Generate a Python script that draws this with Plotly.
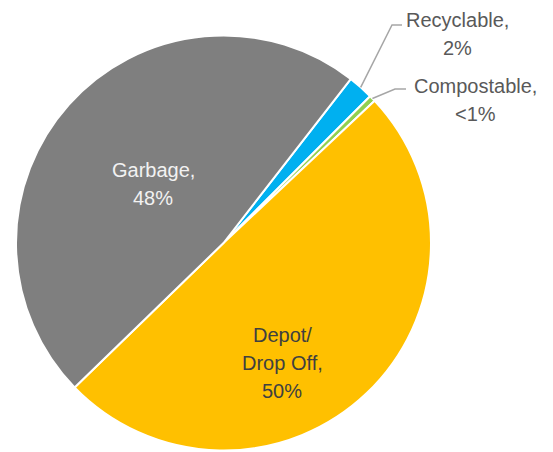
import math
import plotly.graph_objects as go

# Waste stream shares (percent), in clockwise order from the first slice
categories = ["Recyclable", "Compostable", "Depot/<br>Drop Off", "Garbage"]
values = [2, 0.5, 50, 48]
value_labels = ["2%", "<1%", "50%", "48%"]
colors = ["#00B0F0", "#92D050", "#FFC000", "#7F7F7F"]
label_colors = ["#595959", "#595959", "#404040", "#F2F2F2"]

W, H = 553, 452
CX, CY, R = 223.5, 243.0, 207.5   # pie centre and radius in pixels
ROTATION = 37.8                    # start angle of the first slice (deg, clockwise from 12 o'clock)
LINE_GAP = 28                      # label line spacing in pixels


def px(x, y):
    """Pixel position -> paper coordinates."""
    return x / W, 1 - y / H


fig = go.Figure(
    go.Pie(
        labels=categories,
        values=values,
        sort=False,
        direction="clockwise",
        rotation=ROTATION,
        marker=dict(colors=colors, line=dict(color="white", width=2)),
        textinfo="none",
        hoverinfo="skip",
        showlegend=False,
        domain=dict(x=[(CX - R) / W, (CX + R) / W], y=[1 - (CY + R) / H, 1 - (CY - R) / H]),
    )
)

# Slice mid-angles, used to anchor the leader lines of the small slices
total = sum(values)
mid_angles = []
acc = ROTATION
for v in values:
    span = v / total * 360
    mid_angles.append(acc + span / 2)
    acc += span

annotations = []
shapes = []
font_family = "Liberation Sans, Arial, sans-serif"


def add_label(i, x, top_y):
    """Stack the label lines of slice i, first line centred at (x, top_y)."""
    lines = f"{categories[i]},".split("<br>") + [value_labels[i]]
    for k, line in enumerate(lines):
        tx, ty = px(x, top_y + k * LINE_GAP)
        annotations.append(dict(
            x=tx, y=ty, xref="paper", yref="paper", showarrow=False, text=line,
            font=dict(family=font_family, size=20, color=label_colors[i]),
            xanchor="center", yanchor="middle",
        ))


# Outside labels with elbow leader lines for the thin slices
outside = {
    0: dict(elbow=(392, 25), end=(402, 25), text_pos=(457, 20)),
    1: dict(elbow=(395, 89), end=(406, 89), text_pos=(475, 86)),
}
for i, o in outside.items():
    a = math.radians(mid_angles[i])
    sx, sy = CX + R * math.sin(a), CY - R * math.cos(a)
    pts = [(sx, sy), o["elbow"], o["end"]]
    path = "M " + " L ".join(f"{px(x, y)[0]},{px(x, y)[1]}" for x, y in pts)
    shapes.append(dict(type="path", xref="paper", yref="paper", path=path,
                       line=dict(color="#A6A6A6", width=1.5)))
    add_label(i, *o["text_pos"])

# Inside labels for the large slices
add_label(2, 282, 335)
add_label(3, 153, 170)

fig.update_layout(
    width=W, height=H,
    margin=dict(l=0, r=0, t=0, b=0),
    paper_bgcolor="white",
    plot_bgcolor="white",
    annotations=annotations,
    shapes=shapes,
)

fig.write_html("out.html")
